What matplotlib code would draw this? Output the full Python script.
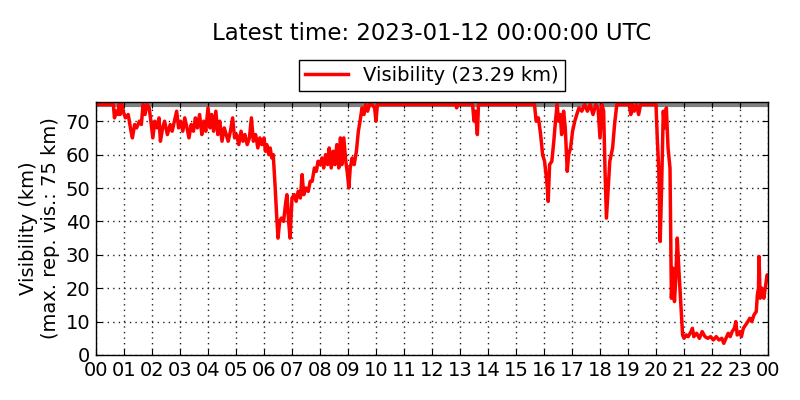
import matplotlib
matplotlib.use("Agg")
import matplotlib.pyplot as plt

# Visibility readings (hour of day, km)
hours = [
    0.00, 0.62, 0.66, 0.72, 0.78, 0.82, 0.86, 0.92, 0.97, 1.05, 1.15, 1.25, 1.30, 1.38, 1.45,
    1.55, 1.62, 1.68, 1.75, 1.82, 1.90, 1.96, 2.03, 2.10, 2.18, 2.25, 2.30, 2.38, 2.45, 2.55,
    2.65, 2.72, 2.80, 2.88, 2.95, 3.02, 3.10, 3.17, 3.25, 3.32, 3.40, 3.48, 3.55, 3.62, 3.70,
    3.78, 3.85, 3.92, 4.00, 4.07, 4.13, 4.20, 4.28, 4.35, 4.42, 4.50, 4.58, 4.65, 4.72, 4.80,
    4.88, 4.95, 5.02, 5.10, 5.18, 5.25, 5.32, 5.40, 5.48, 5.55, 5.62, 5.70, 5.78, 5.85, 5.92,
    6.00, 6.05, 6.10, 6.17, 6.22, 6.28, 6.33, 6.40, 6.45, 6.50, 6.56, 6.62, 6.70, 6.78, 6.82,
    6.88, 6.93, 7.00, 7.08, 7.15, 7.22, 7.30, 7.36, 7.42, 7.50, 7.58, 7.65, 7.72, 7.80, 7.87,
    7.93, 8.00, 8.07, 8.13, 8.20, 8.27, 8.33, 8.40, 8.47, 8.53, 8.60, 8.67, 8.73, 8.78, 8.85,
    8.92, 8.97, 9.03, 9.08, 9.15, 9.22, 9.30, 9.37, 9.43, 9.50, 9.57, 9.63, 9.70, 9.77, 9.85,
    9.95, 10.00, 10.05, 12.85, 12.88, 12.92, 13.45, 13.50, 13.55, 13.62, 13.66, 15.66, 15.72,
    15.80, 15.88, 15.95, 16.02, 16.10, 16.15, 16.20, 16.28, 16.35, 16.42, 16.47, 16.52, 16.58,
    16.63, 16.70, 16.76, 16.83, 16.88, 16.95, 17.02, 17.10, 17.17, 17.25, 17.35, 17.45, 17.55,
    17.65, 17.75, 17.85, 17.93, 18.00, 18.07, 18.13, 18.18, 18.23, 18.28, 18.35, 18.45, 18.52,
    18.60, 19.05, 19.10, 19.15, 19.22, 19.30, 19.38, 19.45, 20.00, 20.05, 20.10, 20.15, 20.20,
    20.26, 20.31, 20.37, 20.43, 20.50, 20.55, 20.60, 20.66, 20.70, 20.76, 20.82, 20.88, 20.95,
    21.00, 21.08, 21.15, 21.25, 21.30, 21.35, 21.45, 21.55, 21.65, 21.75, 21.85, 21.95, 22.05,
    22.15, 22.25, 22.35, 22.42, 22.50, 22.58, 22.65, 22.72, 22.80, 22.85, 22.90, 23.00, 23.05,
    23.12, 23.20, 23.28, 23.35, 23.42, 23.50, 23.58, 23.62, 23.66, 23.68, 23.72, 23.78, 23.85,
    23.92, 23.97, 24.00,
]
visibility = [
    75, 75, 71, 73, 72, 75, 72, 75, 73, 71, 72, 67, 65, 69, 68,
    70, 69, 75, 72, 75, 74, 70, 65, 70, 68, 71, 64, 68, 70, 66,
    69, 67, 70, 73, 68, 70, 67, 71, 68, 65, 69, 67, 71, 68, 72,
    66, 70, 67, 74, 68, 72, 67, 73, 66, 70, 64, 68, 66, 64, 67,
    71, 65, 66, 63, 67, 64, 66, 63, 65, 71, 64, 66, 62, 65, 63,
    65, 61, 63, 60, 62, 59, 60, 50, 42, 35, 40, 41, 40, 46, 48,
    40, 35, 47, 48, 46, 49, 47, 54, 48, 50, 49, 52, 52, 56, 55,
    58, 57, 59, 56, 60, 57, 62, 56, 61, 57, 63, 56, 65, 57, 65,
    58, 55, 50, 56, 59, 57, 61, 67, 70, 74, 72, 75, 73, 75, 75,
    74, 70, 75, 75, 74, 75, 75, 70, 73, 66, 75, 75, 70,
    71, 66, 60, 58, 52, 46, 57, 58, 64, 71, 75, 70, 72,
    66, 73, 68, 55, 60, 62, 67, 70, 72, 74, 73, 75, 73,
    75, 72, 75, 74, 65, 75, 73, 55, 41, 48, 58, 62, 69,
    75, 75, 72, 75, 73, 75, 72, 75, 75, 64, 55, 34, 50,
    73, 68, 74, 62, 56, 17, 26, 16, 22, 35, 25, 16, 6,
    5, 6, 5.5, 7, 8, 5.5, 6.5, 5, 7, 5.5, 5, 5.5, 4.5,
    5.5, 4.5, 5, 3.5, 5, 6.5, 5.5, 7, 8, 10, 6, 7, 5.5,
    8, 9, 10, 11, 10, 12, 13, 18, 20, 29.5, 17, 20, 17,
    21, 24, 23.3,
]
hour_labels = ["%02d" % h for h in range(24)] + ["00"]
max_vis = 75

fig = plt.figure(figsize=(8, 4), dpi=100)
ax = fig.add_axes([0.12, 0.1125, 0.84, 0.6325])

ax.axhline(max_vis, color="grey", lw=3, zorder=1)
ax.plot(hours, visibility, color="red", lw=2.5, zorder=2, label="Visibility (23.29 km)")

ax.set_xlim(0, 24)
ax.set_ylim(0, 75.75)
ax.set_xticks(range(25))
ax.set_xticklabels(hour_labels)
ax.set_yticks(range(0, 71, 10))
ax.tick_params(direction="in", top=True, right=True, labelsize=14, length=4, pad=4)
ax.grid(True, color="#222222", linestyle=(0, (1, 3)), linewidth=1)
for s in ax.spines.values():
    s.set_linewidth(1)

ax.set_ylabel("Visibility (km)\n(max. rep. vis.: 75 km)", fontsize=14, labelpad=4)

fig.suptitle("Latest time: 2023-01-12 00:00:00 UTC", fontsize=16.5, x=0.54, y=0.915, va="center")
leg = ax.legend(loc="lower center", bbox_to_anchor=(0.5, 1.045), fontsize=14,
                fancybox=False, framealpha=1, edgecolor="black", borderaxespad=0,
                handlelength=2.2, borderpad=0.3)
leg.get_frame().set_linewidth(1)

fig.savefig("out.png", dpi=100, facecolor="white")
